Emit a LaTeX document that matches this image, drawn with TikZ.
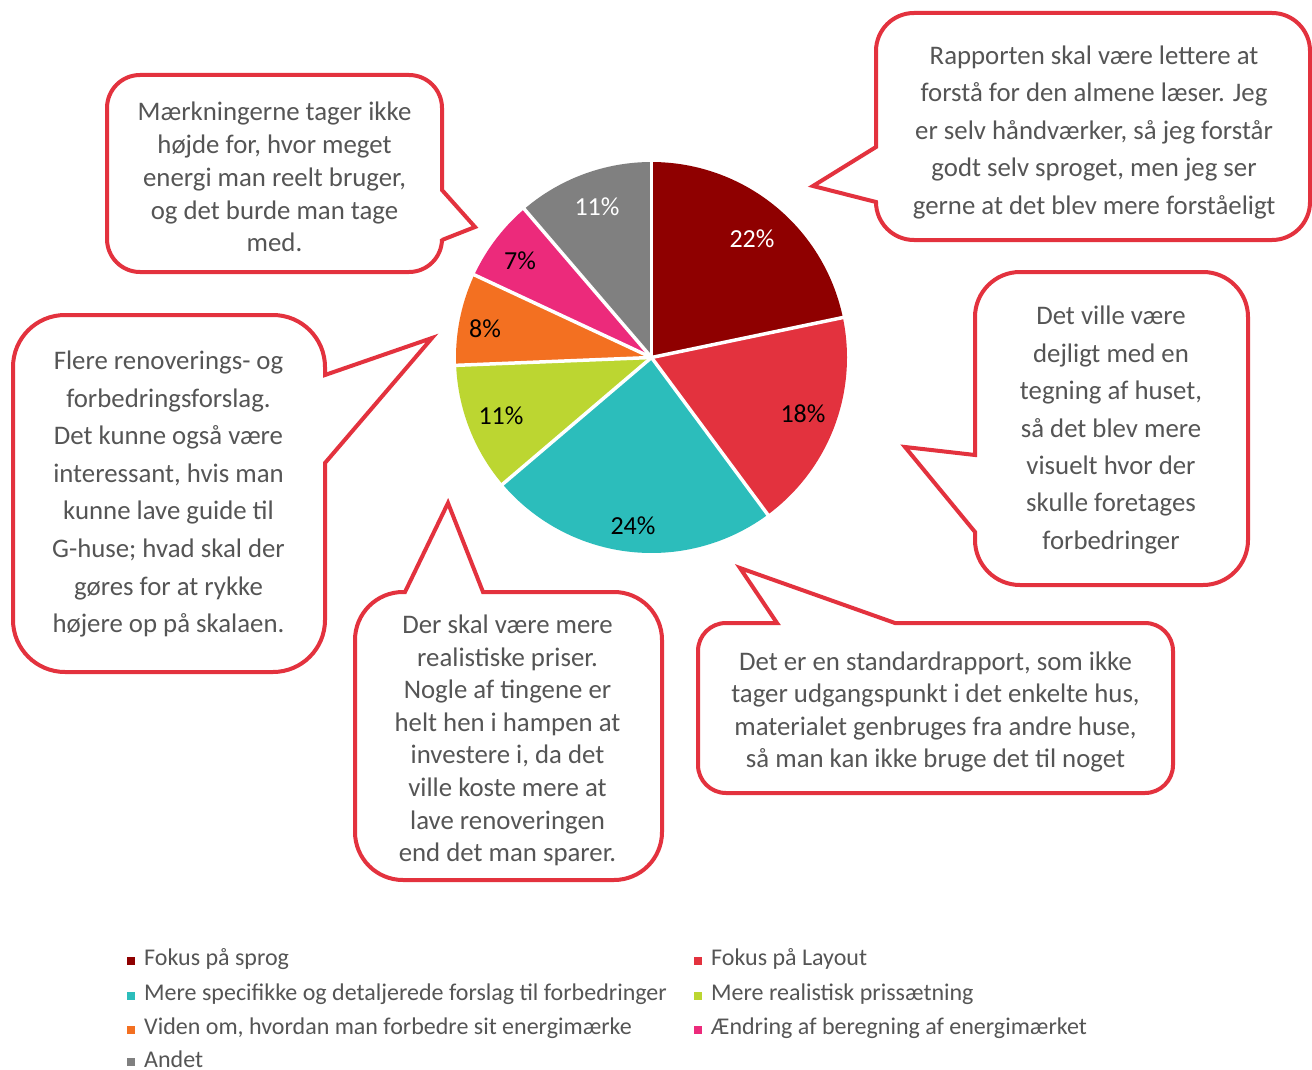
\documentclass[tikz,border=0pt]{standalone}
\usepackage{fontspec}
\setmainfont{Carlito}
\definecolor{cDark}{RGB}{143,0,0}
\definecolor{cRed}{RGB}{227,50,62}
\definecolor{cTeal}{RGB}{44,189,187}
\definecolor{cLime}{RGB}{188,214,49}
\definecolor{cOrange}{RGB}{243,112,33}
\definecolor{cPink}{RGB}{236,42,123}
\definecolor{cGray}{RGB}{128,128,128}
\definecolor{cBorder}{RGB}{227,50,62}
\definecolor{cText}{RGB}{85,85,85}
\newcommand\pieslice[3]{\fill[#3] (pc) -- plot[domain=#1:#2,samples=90] ({651.5+195.5*cos(\x)},{357.5+195.5*sin(\x)}) -- cycle;}
% x1 y1 x2 y2 r toptail righttail bottomtail lefttail
\newcommand\callout[9]{%
 \filldraw[calloutline] ({#1+#5},#2) #6 -- ({#3-#5},#2)
  .. controls ({#3-0.4477*#5},#2) and (#3,{#2+0.4477*#5}) .. (#3,{#2+#5}) #7 -- (#3,{#4-#5})
  .. controls (#3,{#4-0.4477*#5}) and ({#3-0.4477*#5},#4) .. ({#3-#5},#4) #8 -- ({#1+#5},#4)
  .. controls ({#1+0.4477*#5},#4) and (#1,{#4-0.4477*#5}) .. (#1,{#4-#5}) #9 -- (#1,{#2+#5})
  .. controls (#1,{#2+0.4477*#5}) and ({#1+0.4477*#5},#2) .. ({#1+#5},#2) -- cycle;}
\begin{document}
\begin{tikzpicture}[x=1pt,y=-1pt,
  calloutline/.style={draw=cBorder,fill=white,line width=4,line join=miter},
  quote/.style={text=cText,align=center,inner sep=0pt,font=\fontsize{26.8}{#1}\selectfont},
  pct/.style={inner sep=0pt,font=\fontsize{26}{30}\selectfont},
  legsq/.style={fill=#1,inner sep=0pt,minimum size=8},
  legtxt/.style={anchor=west,text=cText,inner sep=0pt,font=\fontsize{24}{28}\selectfont}]
\useasboundingbox (0,0) rectangle (1312,1070);
\fill[white] (0,0) rectangle (1312,1070);
\coordinate (pc) at (651.5,357.5);
% pie
\pieslice{-90}{-11.8}{cDark}
\pieslice{-11.8}{53.5}{cRed}
\pieslice{53.5}{139.6}{cTeal}
\pieslice{139.6}{177.7}{cLime}
\pieslice{177.7}{205}{cOrange}
\pieslice{205}{229.4}{cPink}
\pieslice{229.4}{270}{cGray}
\foreach \a in {-90,-11.8,53.5,139.6,177.7,205,229.4}
  \draw[white,line width=3.5] (pc) -- ({651.5+198*cos(\a)},{357.5+198*sin(\a)});
\node[pct,text=white] (p1) at (752,239) {22\%};
\node[pct] (p2) at (803,414) {18\%};
\node[pct] (p3) at (633,526) {24\%};
\node[pct] (p4) at (501,416) {11\%};
\node[pct] (p5) at (485,329) {8\%};
\node[pct] (p6) at (520,261) {7\%};
\node[pct,text=white] (p7) at (597,207) {11\%};
% callouts
\callout{876}{13}{1310}{240}{38}{}{}{}{-- (876,202) -- (813,186) -- (876,147)}
\callout{107}{75}{442}{272}{33}{}{-- (442,190) -- (475,227) -- (442,240)}{}{}
\callout{13}{315}{325}{672}{52}{}{-- (325,375) -- (432,338) -- (325,463)}{}{}
\callout{355}{592}{662}{880}{48}{-- (405,592) -- (448,503) -- (483,592)}{}{}{}
\callout{698}{623}{1173}{793}{28}{-- (777,623) -- (740,568) -- (895,623)}{}{}{}
\callout{975}{272}{1248}{585}{45}{}{}{}{-- (975,532) -- (905,447) -- (975,455)}
\node[quote=37.5] (q1) at (1094,132) {Rapporten skal være lettere at\\forstå for den almene læser. Jeg\\er selv håndværker, så jeg forstår\\godt selv sproget, men jeg ser\\gerne at det blev mere forståeligt};
\node[quote=32.8] (q2) at (274.5,177) {Mærkningerne tager ikke\\højde for, hvor meget\\energi man reelt bruger,\\og det burde man tage\\med.};
\node[quote=37.6] (q3) at (168.5,494) {Flere renoverings- og\\forbedringsforslag.\\Det kunne også være\\interessant, hvis man\\kunne lave guide til\\G-huse; hvad skal der\\gøres for at rykke\\højere op på skalaen.};
\node[quote=32.6] (q4) at (507.5,740.5) {Der skal være mere\\realistiske priser.\\Nogle af tingene er\\helt hen i hampen at\\investere i, da det\\ville koste mere at\\lave renoveringen\\end det man sparer.};
\node[quote=32.4] (q5) at (935.5,712) {Det er en standardrapport, som ikke\\tager udgangspunkt i det enkelte hus,\\materialet genbruges fra andre huse,\\så man kan ikke bruge det til noget};
\node[quote=37.4] (q6) at (1111,430) {Det ville være\\dejligt med en\\tegning af huset,\\så det blev mere\\visuelt hvor der\\skulle foretages\\forbedringer};
% legend
\node[legsq=cDark] (l1s) at (131,961) {};
\node[legtxt] (l1) at (144,959) {Fokus på sprog};
\node[legsq=cRed] (l2s) at (698,961) {};
\node[legtxt] (l2) at (711,959) {Fokus på Layout};
\node[legsq=cTeal] (l3s) at (131,996) {};
\node[legtxt] (l3) at (144,994) {Mere specifikke og detaljerede forslag til forbedringer};
\node[legsq=cLime] (l4s) at (698,996) {};
\node[legtxt] (l4) at (711,994) {Mere realistisk prissætning};
\node[legsq=cOrange] (l5s) at (131,1030) {};
\node[legtxt] (l5) at (144,1028) {Viden om, hvordan man forbedre sit energimærke};
\node[legsq=cPink] (l6s) at (698,1030) {};
\node[legtxt] (l6) at (711,1028) {Ændring af beregning af energimærket};
\node[legsq=cGray] (l7s) at (131,1062) {};
\node[legtxt] (l7) at (144,1059) {Andet};
\end{tikzpicture}
\end{document}
